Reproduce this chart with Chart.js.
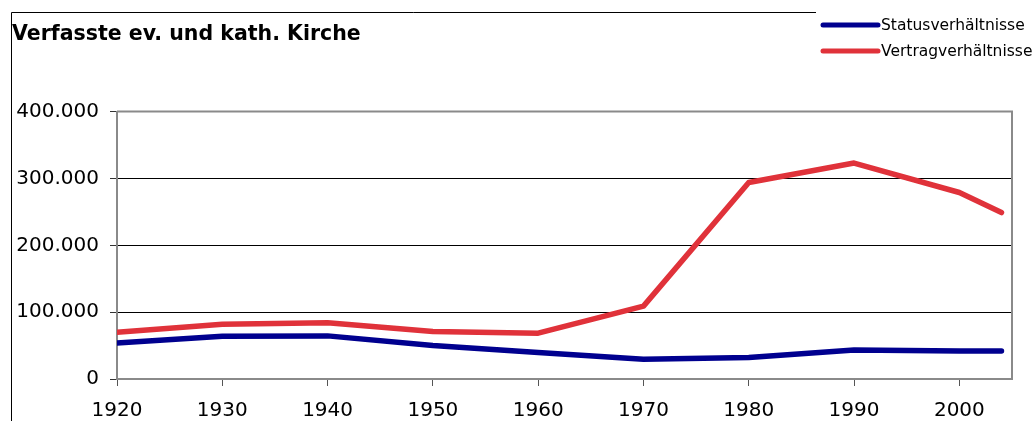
<!DOCTYPE html>
<html>
<head>
<meta charset="utf-8">
<script src="https://cdn.jsdelivr.net/npm/chart.js@4"></script>
<style>
  html, body { margin: 0; padding: 0; background: #fff; }
  #wrap { position: relative; width: 1034px; height: 421px; }
</style>
</head>
<body>
<div id="wrap"><canvas id="kirchenChart" width="1034" height="421"></canvas></div>
<script>
// ==================== DATA ====================
var jahre = [1920, 1930, 1940, 1950, 1960, 1970, 1980, 1990, 2000, 2004];
var statusWerte = [54000, 64000, 64500, 50000, 39500, 29500, 32000, 43500, 42000, 42000];
var vertragWerte = [70000, 82000, 84000, 71000, 68500, 109000, 294000, 323000, 279000, 249000];
var yTicks = [0, 100000, 200000, 300000, 400000];
var xTicks = [1920, 1930, 1940, 1950, 1960, 1970, 1980, 1990, 2000];

var titel = 'Verfasste ev. und kath. Kirche';
var FONT = 'DejaVu Sans, Verdana, sans-serif';

function punkte(werte) {
  return jahre.map(function (j, i) { return { x: j, y: werte[i] }; });
}

// ==================== PLUGINS ====================
// Rahmen (links + oben) und Plotbereich-Rand
var rahmenPlugin = {
  id: 'rahmen',
  beforeDatasetsDraw: function (chart) {
    var ctx = chart.ctx, a = chart.chartArea;
    ctx.save();
    ctx.strokeStyle = '#8a8a8a';
    ctx.lineWidth = 2;
    ctx.beginPath();
    ctx.moveTo(a.left, a.top);
    ctx.lineTo(a.right, a.top);
    ctx.lineTo(a.right, a.bottom);
    ctx.stroke();
    ctx.restore();
  },
  afterDraw: function (chart) {
    var ctx = chart.ctx;
    ctx.save();
    ctx.strokeStyle = '#000';
    ctx.lineWidth = 1;
    ctx.beginPath();
    ctx.moveTo(11.5, 421);
    ctx.lineTo(11.5, 12.5);
    ctx.lineTo(816, 12.5);
    ctx.stroke();
    ctx.restore();
  }
};

// Legende oben rechts
var legendePlugin = {
  id: 'legende',
  afterDraw: function (chart) {
    var ctx = chart.ctx;
    ctx.save();
    ctx.font = '15.5px ' + FONT;
    ctx.textBaseline = 'middle';
    ctx.fillStyle = '#000';
    chart.data.datasets.forEach(function (ds, i) {
      var y = 25 + i * 26;
      ctx.strokeStyle = ds.borderColor;
      ctx.lineWidth = 5;
      ctx.lineCap = 'round';
      ctx.beginPath();
      ctx.moveTo(823, y);
      ctx.lineTo(878, y);
      ctx.stroke();
      ctx.fillText(ds.label, 881, y + 1);
    });
    ctx.restore();
  }
};

// ==================== CHART ====================
function initChart() {
  var ctx = document.getElementById('kirchenChart').getContext('2d');
  return new Chart(ctx, {
    type: 'line',
    data: {
      datasets: [
        {
          label: 'Statusverhältnisse',
          data: punkte(statusWerte),
          borderColor: '#00008f',
          borderWidth: 5.5,
          pointRadius: 0,
          tension: 0,
          borderCapStyle: 'round',
          borderJoinStyle: 'round'
        },
        {
          label: 'Vertragverhältnisse',
          data: punkte(vertragWerte),
          borderColor: '#e0323a',
          borderWidth: 5.5,
          pointRadius: 0,
          tension: 0,
          borderCapStyle: 'round',
          borderJoinStyle: 'round'
        }
      ]
    },
    options: {
      responsive: false,
      animation: false,
      layout: { padding: { left: 12, right: 22, top: 0, bottom: 0 } },
      plugins: {
        legend: { display: false },
        tooltip: { enabled: false },
        title: {
          display: true,
          text: titel,
          align: 'start',
          color: '#000',
          font: { family: FONT, size: 20.5, weight: 'bold' },
          padding: { top: 22, bottom: 65 }
        }
      },
      scales: {
        x: {
          type: 'linear',
          min: 1920,
          max: 2005,
          afterBuildTicks: function (scale) {
            scale.ticks = xTicks.map(function (v) { return { value: v }; });
          },
          afterFit: function (scale) { scale.height = 42; },
          grid: { drawOnChartArea: false, tickLength: 7, tickColor: '#555', lineWidth: 1 },
          border: { color: '#8a8a8a', width: 2 },
          ticks: {
            color: '#000',
            font: { family: FONT, size: 20 },
            padding: 13,
            maxRotation: 0,
            callback: function (v) { return String(v); }
          }
        },
        y: {
          min: 0,
          max: 400000,
          afterBuildTicks: function (scale) {
            scale.ticks = yTicks.map(function (v) { return { value: v }; });
          },
          afterFit: function (scale) { scale.width = 105; },
          grid: { color: '#000', lineWidth: 1, tickLength: 7, tickColor: '#333' },
          border: { color: '#8a8a8a', width: 2 },
          ticks: {
            color: '#000',
            font: { family: FONT, size: 20 },
            padding: 11,
            callback: function (v) { return v.toLocaleString('de-DE'); }
          }
        }
      }
    },
    plugins: [rahmenPlugin, legendePlugin]
  });
}

initChart();
</script>
</body>
</html>
